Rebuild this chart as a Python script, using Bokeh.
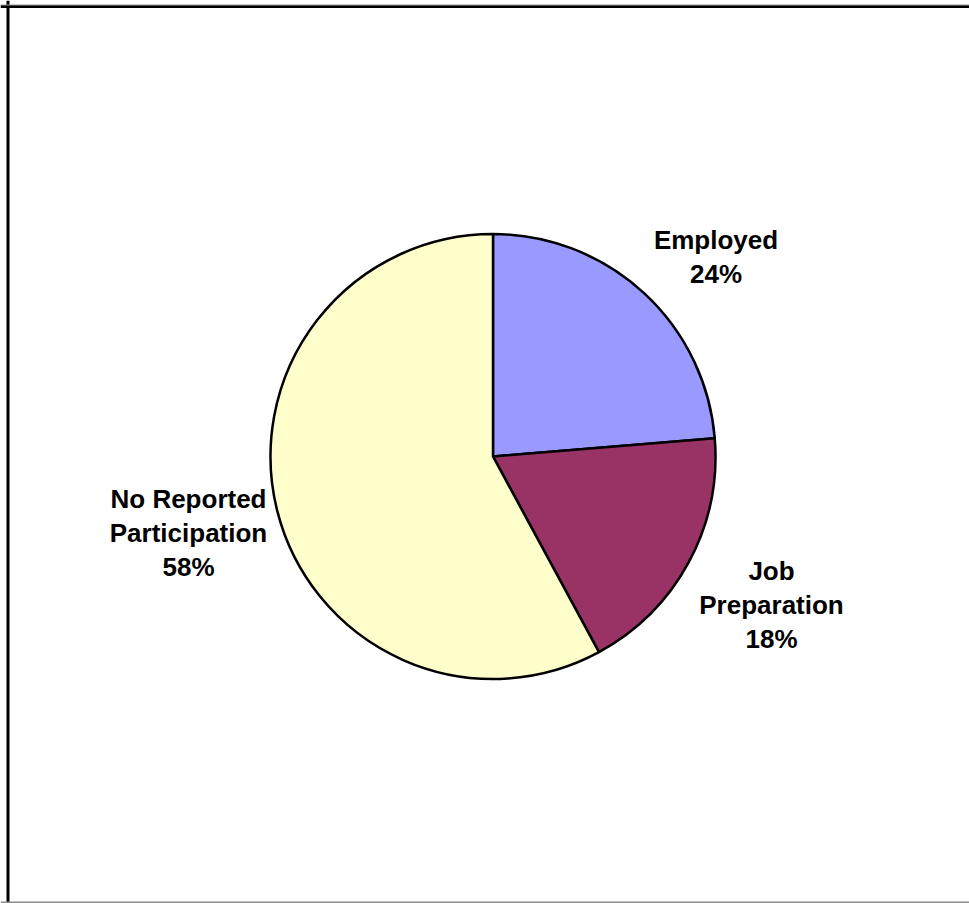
import numpy as np
from bokeh.plotting import figure
from bokeh.models import ColumnDataSource, Range1d, Span
from bokeh.core.properties import value
from bokeh.embed import file_html
from bokeh.resources import INLINE

# ---- data ----
categories = ["Employed", "Job Preparation", "No Reported Participation"]
shares = [23.7, 18.4, 57.9]
label_lines = [["Employed"], ["Job", "Preparation"], ["No Reported", "Participation"]]
colors = ["#9999FF", "#993366", "#FFFFCC"]

# ---- layout (image pixel coordinates) ----
W, H = 969, 903
cx_img, cy_img, R = 492.5, 456.0, 222.5
label_offsets = [(223.0, -209.0), (278.5, 139.5), (-304.5, 67.5)]  # block centre relative to pie centre
line_gap = 34.0
cap_half = 9.3

def dy(img_y):
    return H - img_y

p = figure(width=W, height=H, output_backend="svg", toolbar_location=None,
           x_range=Range1d(0, W), y_range=Range1d(0, H),
           min_border=0, outline_line_color=None)
p.axis.visible = False
p.grid.visible = False
p.background_fill_color = "white"
p.border_fill_color = "white"

vals = np.array(shares, dtype=float)
frac = vals / vals.sum()
cum = np.concatenate([[0.0], np.cumsum(frac)])
start = np.pi / 2 - cum[1:] * 2 * np.pi
end = np.pi / 2 - cum[:-1] * 2 * np.pi

src = ColumnDataSource(dict(x=[cx_img] * len(vals), y=[dy(cy_img)] * len(vals),
                            start=start, end=end, color=colors, cat=categories))
p.wedge(x="x", y="y", radius=R, start_angle="start", end_angle="end",
        fill_color="color", line_color="black", line_width=2.5, source=src)

tx, ty, tt = [], [], []
for lines, pct, (ox, oy) in zip(label_lines, frac, label_offsets):
    all_lines = lines + [f"{round(pct * 100):.0f}%"]
    n = len(all_lines)
    for i, t in enumerate(all_lines):
        base = cy_img + oy + (i - (n - 1) / 2) * line_gap + cap_half
        tx.append(cx_img + ox)
        ty.append(dy(base))
        tt.append(t)

p.text(x=tx, y=ty, text=tt, text_font=value("Liberation Sans"), text_font_style="bold",
       text_font_size="26px", text_align="center", text_baseline="alphabetic", text_color="black")

# chart-area frame (left and top edges visible; bottom shadow)
p.add_layout(Span(location=7.5, dimension="height", line_color="black", line_width=3))
p.add_layout(Span(location=dy(6.0), dimension="width", line_color="black", line_width=3))
p.add_layout(Span(location=dy(4.5), dimension="width", line_color="#9a9a9a", line_width=1))
p.add_layout(Span(location=dy(902), dimension="width", line_color="#8c8c8c", line_width=2))

open("out.html", "w").write(file_html(p, INLINE))
